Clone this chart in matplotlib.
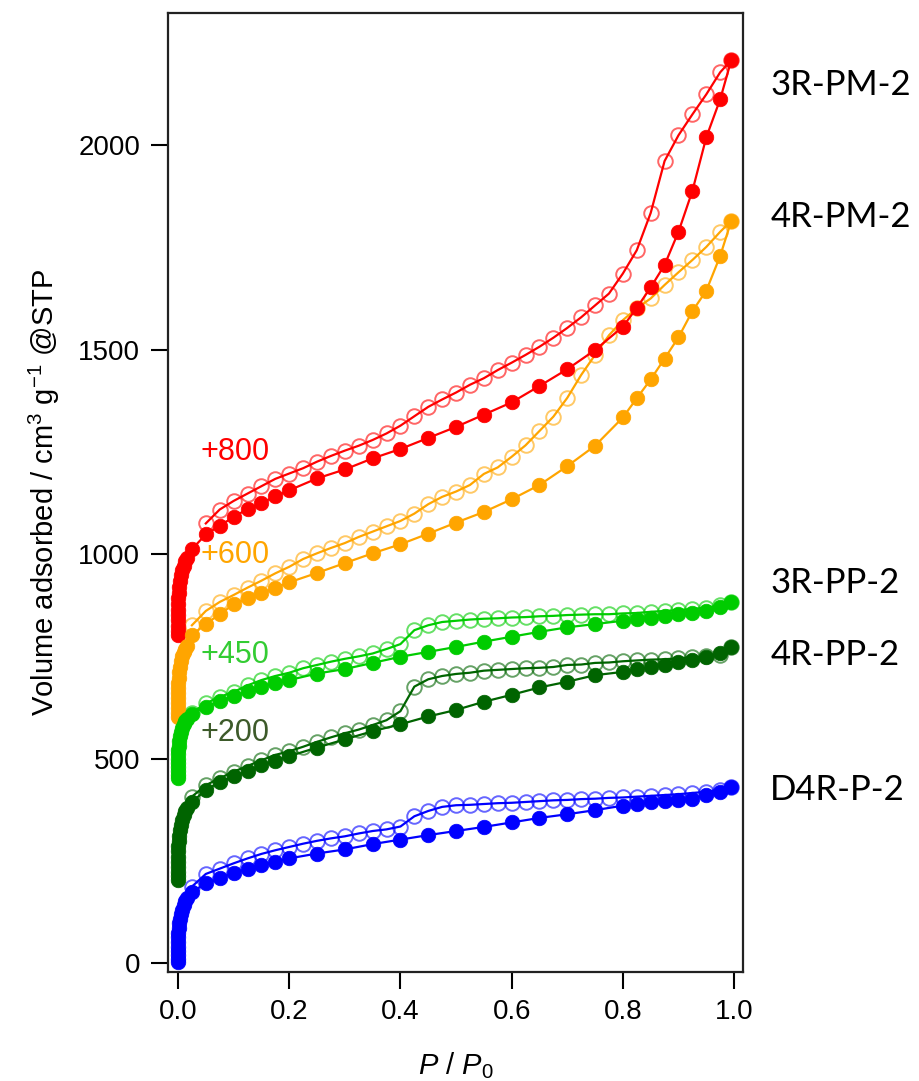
import matplotlib
matplotlib.use("Agg")
import matplotlib.pyplot as plt
import numpy as np

plt.rcParams["font.family"] = ["Liberation Sans", "DejaVu Sans"]
plt.rcParams["mathtext.fontset"] = "custom"
plt.rcParams["mathtext.rm"] = "Liberation Sans"
plt.rcParams["mathtext.it"] = "Liberation Sans:italic"

# ---- relative pressure grids ----
p_low = [0.00001, 0.00002, 0.00004, 0.00007, 0.0001, 0.0002, 0.0004, 0.0007,
         0.001, 0.002, 0.003, 0.005, 0.007, 0.010, 0.013, 0.016]
p_ads = [0.025, 0.05, 0.075, 0.1, 0.125, 0.15, 0.175, 0.2, 0.25, 0.3, 0.35, 0.4,
         0.45, 0.5, 0.55, 0.6, 0.65, 0.7, 0.75, 0.8, 0.825, 0.85, 0.875, 0.9,
         0.925, 0.95, 0.975, 0.995]
p_des = [0.025, 0.05, 0.075, 0.1, 0.125, 0.15, 0.175, 0.2, 0.225, 0.25, 0.275,
         0.3, 0.325, 0.35, 0.375, 0.4, 0.425, 0.45, 0.475, 0.5, 0.525, 0.55,
         0.575, 0.6, 0.625, 0.65, 0.675, 0.7, 0.725, 0.75, 0.775, 0.8, 0.825,
         0.85, 0.875, 0.9, 0.925, 0.95, 0.975, 0.995]

# ---- 3R-PM-2 (shifted +800) ----
pm3_low = [2, 12, 25, 38, 50, 64, 78, 92, 104, 120, 134, 148, 160, 172, 182, 190]
pm3_ads = [212, 248, 269, 291, 310, 325, 341, 356, 385, 407, 434, 457, 484, 511,
           541, 571, 611, 652, 699, 756, 802, 852, 907, 988, 1088, 1219, 1312, 1408]
pm3_des = [None, 275, 309, 330, 348, 366, 384, 397, 410, 426, 440, 453, 465, 479,
           495, 514, 537, 560, 578, 595, 614, 630, 650, 668, 687, 707, 729, 753,
           779, 808, 837, 886, 943, 1034, 1161, 1224, 1275, 1324, 1378, 1408]

# ---- 4R-PM-2 (shifted +600) ----
pm4_low = [2, 12, 24, 36, 48, 60, 73, 86, 98, 112, 125, 138, 150, 160, 168, 176]
pm4_ads = [202, 229, 253, 277, 292, 304, 318, 331, 354, 378, 402, 424, 450, 477,
           503, 534, 569, 615, 665, 734, 781, 827, 878, 930, 994, 1044, 1129, 1215]
pm4_des = [226, 261, 283, 300, 318, 335, 353, 369, 388, 402, 415, 427, 442, 455,
           468, 481, 499, 522, 540, 553, 569, 596, 612, 638, 666, 701, 736, 782,
           838, 887, 935, 972, 1001, 1025, 1058, 1089, 1119, 1151, 1188, 1215]

# ---- 3R-PP-2 (shifted +450) ----
pp3_low = [2, 10, 20, 30, 40, 50, 61, 72, 82, 94, 105, 116, 126, 134, 141, 148]
pp3_ads = [160, 177, 191, 203, 215, 226, 234, 242, 258, 269, 284, 299, 311, 323,
           336, 348, 360, 371, 379, 387, 391, 395, 398, 403, 405, 411, 420, 432]
pp3_des = [162, 185, 201, 213, 229, 242, 252, 260, 271, 279, 287, 294, 300, 307,
           318, 330, 364, 376, 384, 387, 390, 392, 393, 395, 396, 398, 399, 401,
           402, 403, 403, 405, 406, 409, 411, 413, 416, 419, 425, 432]

# ---- 4R-PP-2 (shifted +200) ----
pp4_low = [2, 12, 24, 36, 48, 60, 73, 86, 98, 112, 125, 138, 150, 162, 171, 179]
pp4_ads = [194, 223, 243, 257, 270, 284, 295, 306, 327, 347, 367, 384, 403, 419,
           439, 456, 474, 488, 504, 512, 519, 524, 530, 537, 541, 549, 557, 572]
pp4_des = [207, 235, 252, 268, 282, 296, 309, 318, 329, 341, 352, 362, 371, 382,
           394, 416, 476, 494, 502, 507, 510, 515, 517, 519, 521, 522, 524, 529,
           530, 534, 535, 538, 540, 542, 543, 545, 548, 550, 554, 572]

# ---- D4R-P-2 (no shift) ----
d4_low = [2, 10, 20, 30, 40, 52, 63, 74, 85, 97, 108, 120, 131, 142, 151, 159]
d4_ads = [174, 195, 207, 221, 231, 240, 248, 256, 268, 278, 291, 302, 313, 323,
          333, 344, 355, 364, 374, 385, 390, 393, 396, 399, 402, 410, 419, 430]
d4_des = [187, 218, 231, 244, 256, 267, 276, 284, 292, 299, 305, 310, 317, 323,
          327, 334, 359, 372, 382, 386, 387, 389, 391, 392, 394, 396, 398, 399,
          401, 402, 404, 405, 407, 409, 411, 413, 416, 419, 424, 430]

names = ["3R-PM-2", "4R-PM-2", "3R-PP-2", "4R-PP-2", "D4R-P-2"]
offsets = [800, 600, 450, 200, 0]
colors = ["#FF0000", "#FFA500", "#00CC00", "#006400", "#0000FF"]
offset_text_colors = ["#FF0000", "#FFA500", "#33CC33", "#3D5A2A", None]
lows = [pm3_low, pm4_low, pp3_low, pp4_low, d4_low]
adss = [pm3_ads, pm4_ads, pp3_ads, pp4_ads, d4_ads]
dess = [pm3_des, pm4_des, pp3_des, pp4_des, d4_des]

fig = plt.figure(figsize=(9.2, 10.81), dpi=100)
ax = fig.add_axes([0.1826, 0.1011, 0.625, 0.8869])

for name, off, col, low, ads, des in zip(names, offsets, colors, lows, adss, dess):
    # desorption branch: open circles
    px = [p for p, v in zip(p_des, des) if v is not None]
    py = [v + off for v in des if v is not None]
    ax.plot(px, py, color=col, lw=1.6, zorder=2)
    ax.plot(px, py, ls="none", marker="o", ms=10.5, mfc="none",
            mec=matplotlib.colors.to_rgba(col, 0.6), mew=1.4, zorder=2)
    # adsorption branch: filled circles
    ax_x = p_low + p_ads
    ax_y = [v + off for v in low + ads]
    ax.plot(ax_x, ax_y, color=col, lw=1.6, marker="o", ms=10.5, mfc=col, mec=col,
            mew=0.5, zorder=3)

# shift annotations
shift_pos = [(0.040, 1249, "+800"), (0.040, 998, "+600"), (0.040, 753, "+450"),
             (0.040, 562, "+200")]
for (x, y, t), c in zip(shift_pos, offset_text_colors):
    ax.text(x, y, t, color=c, fontsize=22, ha="left", va="center")

# sample names to the right of the frame
name_y = [2147, 1824, 929, 753, 423]
for n, y in zip(names, name_y):
    ax.text(1.065, y, n, fontsize=25, family=["Lato", "DejaVu Sans"],
            ha="left", va="center", clip_on=False)

ax.set_xlim(-0.018, 1.016)
ax.set_ylim(-21, 2323)
ax.set_xticks([0.0, 0.2, 0.4, 0.6, 0.8, 1.0])
ax.set_xticklabels(["0.0", "0.2", "0.4", "0.6", "0.8", "1.0"])
ax.set_yticks([0, 500, 1000, 1500, 2000])
ax.tick_params(direction="out", length=12, width=1.5, labelsize=20, pad=8,
               colors="black")
for s in ax.spines.values():
    s.set_linewidth(1.6)
    s.set_color("#222222")

ax.set_xlabel(r"$P$ / $P_0$", fontsize=21, labelpad=18)
ax.set_ylabel(r"Volume adsorbed / cm$^3$ g$^{-1}$ @STP", fontsize=21, labelpad=12)

fig.savefig("out.png", dpi=100)
